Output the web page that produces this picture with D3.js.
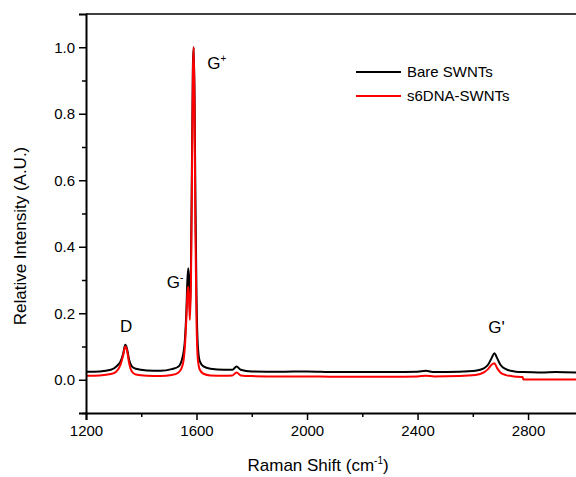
<!DOCTYPE html>
<html>
<head>
<meta charset="utf-8">
<script src="https://cdn.jsdelivr.net/npm/d3@7"></script>
<style>
  body { margin: 0; background: #fff; }
  svg { display: block; }
  text { font-family: "Liberation Sans", Arial, sans-serif; fill: #000; }
</style>
</head>
<body>
<script>
// Raman spectra
const shift = [1200, 1250, 1290, 1310, 1325, 1335, 1342, 1348, 1356, 1366, 1380, 1420, 1470, 1510, 1535, 1550, 1558, 1563, 1567, 1570, 1573, 1576, 1580, 1584, 1587, 1590, 1593, 1596, 1600, 1605, 1612, 1625, 1650, 1700, 1730, 1745, 1760, 1800, 1900, 2000, 2100, 2200, 2300, 2400, 2430, 2460, 2550, 2610, 2640, 2655, 2668, 2678, 2688, 2700, 2720, 2750, 2780, 2783, 2850, 2900, 2988];
const bare = [0.024, 0.025, 0.03, 0.04, 0.055, 0.08, 0.105, 0.095, 0.06, 0.04, 0.033, 0.028, 0.027, 0.032, 0.04, 0.07, 0.12, 0.2, 0.3, 0.335, 0.3, 0.2, 0.35, 0.7, 0.95, 1.0, 0.85, 0.55, 0.25, 0.1, 0.055, 0.04, 0.033, 0.03, 0.03, 0.04, 0.03, 0.025, 0.024, 0.025, 0.023, 0.023, 0.023, 0.024, 0.027, 0.023, 0.024, 0.027, 0.034, 0.045, 0.065, 0.08, 0.065, 0.045, 0.032, 0.025, 0.023, 0.023, 0.022, 0.023, 0.021];
const dna  = [0.012, 0.013, 0.017, 0.025, 0.045, 0.075, 0.1, 0.09, 0.05, 0.025, 0.016, 0.012, 0.011, 0.014, 0.022, 0.045, 0.1, 0.18, 0.26, 0.28, 0.24, 0.18, 0.3, 0.65, 0.93, 1.0, 0.8, 0.45, 0.18, 0.06, 0.03, 0.018, 0.013, 0.012, 0.013, 0.022, 0.013, 0.011, 0.01, 0.01, 0.009, 0.009, 0.009, 0.01, 0.012, 0.01, 0.011, 0.014, 0.022, 0.032, 0.045, 0.05, 0.035, 0.022, 0.014, 0.01, 0.008, 0.001, 0.001, 0.001, 0.001];

const yTicks = [0.0, 0.2, 0.4, 0.6, 0.8, 1.0];
const xTicks = [1200, 1600, 2000, 2400, 2800];

const peaks = [
  {label: "D", sup: "", x: 1345, y: 0.145},
  {label: "G", sup: "-", x: 1522, y: 0.275},
  {label: "G", sup: "+", x: 1673, y: 0.935},
  {label: "G'", sup: "", x: 2686, y: 0.142}
];

const series = [
  {name: "Bare SWNTs", values: bare, color: "#000000"},
  {name: "s6DNA-SWNTs", values: dna, color: "#ff0000"}
];

const W = 576, H = 477;
const margin = {top: 14, right: -4, bottom: 64, left: 86};
const w = W - margin.left - margin.right;
const h = H - margin.top - margin.bottom;

const svg = d3.select("body").append("svg")
    .attr("width", W)
    .attr("height", H);

const g = svg.append("g")
    .attr("transform", "translate(" + margin.left + "," + margin.top + ")");

const x = d3.scaleLinear().domain([1200, 2988]).range([0, w]);
const y = d3.scaleLinear().domain([-0.1, 1.1]).range([h, 0]);

// clip the spectra to the frame
g.append("clipPath").attr("id", "clip")
  .append("rect").attr("width", w).attr("height", h);

// spectra, red drawn last so it sits on top like the reference
const line = d3.line()
    .x((d, i) => x(shift[i]))
    .y(d => y(d))
    .curve(d3.curveMonotoneX);

g.append("g").attr("clip-path", "url(#clip)")
  .selectAll("path")
  .data(series)
  .enter()
  .append("path")
    .attr("d", d => line(d.values))
    .attr("fill", "none")
    .attr("stroke", d => d.color)
    .attr("stroke-width", 2)
    .attr("stroke-linejoin", "round");

// frame top line
g.append("line")
    .attr("x1", 0).attr("x2", w)
    .attr("y1", 0).attr("y2", 0)
    .attr("stroke", "#000").attr("stroke-width", 1.5);

// y axis with minor ticks
g.append("g")
    .call(d3.axisLeft(y).tickValues(yTicks).tickFormat(d3.format(".1f")).tickSize(7).tickPadding(4));
g.append("g")
    .call(d3.axisLeft(y).tickValues([-0.1, 0.1, 0.3, 0.5, 0.7, 0.9]).tickSize(4).tickFormat(""))
    .select(".domain").remove();

// x axis with minor ticks
g.append("g")
    .attr("transform", "translate(0," + h + ")")
    .call(d3.axisBottom(x).tickValues(xTicks).tickFormat(d3.format("d")).tickSize(7).tickPadding(5));
g.append("g")
    .attr("transform", "translate(0," + h + ")")
    .call(d3.axisBottom(x).tickValues([1400, 1800, 2200, 2600]).tickSize(4).tickFormat(""))
    .select(".domain").remove();

g.selectAll(".domain").attr("stroke", "#000").attr("stroke-width", 2);
g.selectAll(".tick line").attr("stroke", "#000").attr("stroke-width", 1.5);
g.selectAll(".tick text").style("font-size", "15px").style("font-family", "Liberation Sans, Arial, sans-serif");

// axis titles
g.append("text")
    .attr("transform", "rotate(-90)")
    .attr("x", -222)
    .attr("y", -margin.left + 26)
    .attr("text-anchor", "middle")
    .style("font-size", "17px")
    .text("Relative Intensity (A.U.)");

const xt = g.append("text")
    .attr("x", x(2040))
    .attr("y", h + 58)
    .attr("text-anchor", "middle")
    .style("font-size", "17px");
xt.append("tspan").text("Raman Shift (cm");
xt.append("tspan").attr("dy", -7).style("font-size", "10px").text("-1");
xt.append("tspan").attr("dy", 7).text(")");

// peak labels
peaks.forEach(p => {
  const t = g.append("text")
      .attr("x", x(p.x))
      .attr("y", y(p.y))
      .attr("text-anchor", "middle")
      .style("font-size", "17px");
  t.append("tspan").text(p.label);
  if (p.sup) t.append("tspan").attr("dy", -7).style("font-size", "10px").text(p.sup);
});

// legend
const legend = g.append("g")
    .attr("transform", "translate(" + (356 - margin.left) + "," + (72 - margin.top) + ")");
series.forEach((s, i) => {
  legend.append("line")
      .attr("x1", 0).attr("x2", 45)
      .attr("y1", i * 24).attr("y2", i * 24)
      .attr("stroke", s.color).attr("stroke-width", 2);
  legend.append("text")
      .attr("x", 51).attr("y", i * 24)
      .attr("dy", "0.35em")
      .style("font-size", "15px")
      .text(s.name);
});
</script>
</body>
</html>
